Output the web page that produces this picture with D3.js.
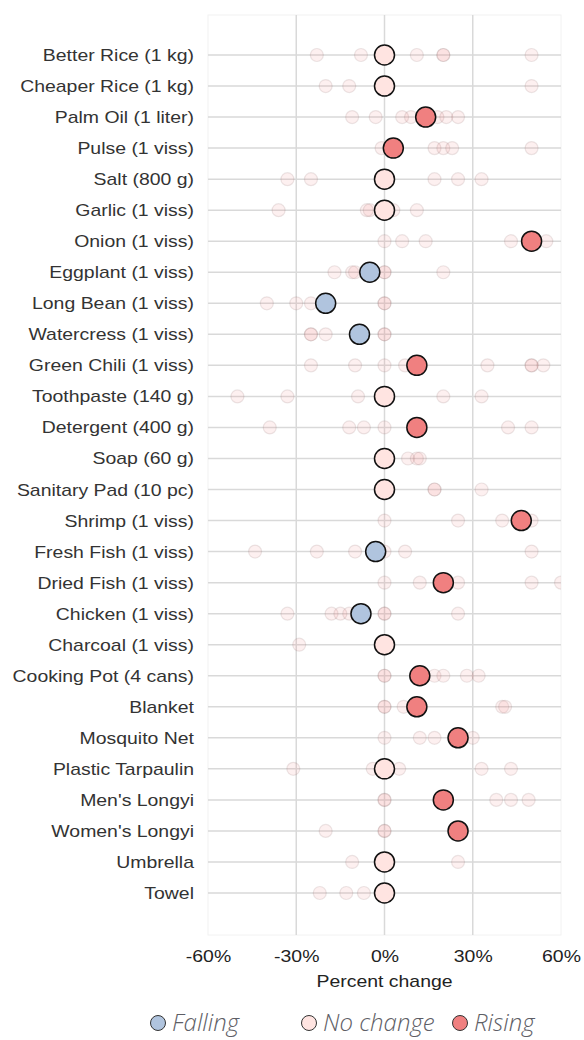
<!DOCTYPE html>
<html>
<head>
<meta charset="utf-8">
<script src="https://cdn.jsdelivr.net/npm/d3@7"></script>
<style>
  body { margin: 0; background: #fff; }
  svg { display: block; }
</style>
</head>
<body>
<div id="chart"></div>
<script>
// items, top to bottom
const items = [
  "Better Rice (1 kg)", "Cheaper Rice (1 kg)", "Palm Oil (1 liter)", "Pulse (1 viss)",
  "Salt (800 g)", "Garlic (1 viss)", "Onion (1 viss)", "Eggplant (1 viss)",
  "Long Bean (1 viss)", "Watercress (1 viss)", "Green Chili (1 viss)", "Toothpaste (140 g)",
  "Detergent (400 g)", "Soap (60 g)", "Sanitary Pad (10 pc)", "Shrimp (1 viss)",
  "Fresh Fish (1 viss)", "Dried Fish (1 viss)", "Chicken (1 viss)", "Charcoal (1 viss)",
  "Cooking Pot (4 cans)", "Blanket", "Mosquito Net", "Plastic Tarpaulin",
  "Men's Longyi", "Women's Longyi", "Umbrella", "Towel"
];

// median percent change per item
const medians = [
  0, 0, 14, 3,
  0, 0, 50, -5,
  -20, -8.5, 11, 0,
  11, 0, 0, 46.5,
  -3, 20, -8, 0,
  12, 11, 25, 0,
  20, 25, 0, 0
];

// individual market readings (percent change) per item
const markets = [
  [-23, -8, 11, 20, 20, 50],
  [-20, -12, 50],
  [-11, -3, 6, 9, 18, 21, 25],
  [-1, 17, 20, 23, 50],
  [-33, -25, 17, 25, 33],
  [-36, -6, -5, 3, 11],
  [0, 6, 14, 43, 55],
  [-17, -11, -10, 0, 0, 20],
  [-40, -30, -25, 0, 0],
  [-25, -25, -20, 0, 0],
  [-25, -10, 0, 7, 35, 50, 50, 54],
  [-50, -33, -9, 20, 33],
  [-39, -12, -7, 0, 42, 50],
  [8, 11, 12],
  [17, 17, 33],
  [0, 25, 40, 50],
  [-44, -23, -10, 0, 7, 50],
  [0, 12, 25, 50, 60],
  [-33, -18, -15, -12, 0, 0, 25],
  [-29],
  [0, 0, 17, 20, 28, 32],
  [0, 0, 6.5, 40, 41],
  [0, 12, 17, 30],
  [-31, -4, 5, 33, 43],
  [0, 0, 38, 43, 49],
  [-20, 0, 0],
  [-11, 25],
  [-22, -13, -7]
];

const xTicks = [-60, -30, 0, 30, 60];
const statuses = ["Falling", "No change", "Rising"];
const statusColors = ["#b0c4de", "#ffe4e1", "#f08080"];

const width = 584, height = 1040;
const plot = { left: 208, right: 561, top: 15, bottom: 935 };
const stretch = 1.13;   // the labels are drawn a little wide
const labelFont = "'Liberation Sans', Arial, sans-serif";

const svg = d3.select("#chart").append("svg")
    .attr("width", width)
    .attr("height", height);

const x = d3.scaleLinear().domain([-60, 60]).range([plot.left, plot.right]);
const y = d3.scalePoint().domain(items).range([55, 893]);
const color = d3.scaleOrdinal().domain(statuses).range(statusColors);

const statusOf = v => v > 0 ? "Rising" : (v < 0 ? "Falling" : "No change");

// plot frame (very light)
svg.append("rect")
    .attr("x", plot.left).attr("y", plot.top)
    .attr("width", plot.right - plot.left).attr("height", plot.bottom - plot.top)
    .attr("fill", "none").attr("stroke", "#f2f2f2").attr("stroke-width", 1);

// vertical grid
svg.append("g")
    .selectAll("line")
    .data(xTicks.filter(d => Math.abs(d) < 60))
    .join("line")
        .attr("x1", d => x(d)).attr("x2", d => x(d))
        .attr("y1", plot.top).attr("y2", plot.bottom)
        .attr("stroke", "#d9d9d9").attr("stroke-width", 1.5);

// horizontal row lines
svg.append("g")
    .selectAll("line")
    .data(items)
    .join("line")
        .attr("x1", plot.left).attr("x2", plot.right)
        .attr("y1", d => y(d)).attr("y2", d => y(d))
        .attr("stroke", "#d9d9d9").attr("stroke-width", 1.5);

// y labels
svg.append("g")
    .attr("transform", `translate(${plot.left - 14},0)`)
    .call(d3.axisLeft(y).tickSize(0).tickPadding(0))
    .call(g => g.select(".domain").remove())
    .selectAll("text")
        .attr("font-family", labelFont)
        .attr("font-size", 17.2)
        .attr("fill", "#333")
        .attr("transform", `scale(${stretch},1)`);

// x axis labels
svg.append("g")
    .attr("transform", `translate(0,${plot.bottom})`)
    .call(d3.axisBottom(x).tickValues(xTicks).tickFormat(d => d + "%").tickSize(0).tickPadding(15))
    .call(g => g.select(".domain").remove())
    .selectAll("text")
        .attr("font-family", labelFont)
        .attr("font-size", 17.2)
        .attr("fill", "#222")
        .attr("transform", `scale(${stretch},1)`);

svg.append("text")
    .attr("transform", `translate(${x(0)},987) scale(${stretch},1)`)
    .attr("text-anchor", "middle")
    .attr("font-family", labelFont)
    .attr("font-size", 17.2)
    .attr("fill", "#222")
    .text("Percent change");

// clip for market readings
svg.append("clipPath").attr("id", "plot-clip")
    .append("rect")
    .attr("x", plot.left).attr("y", plot.top)
    .attr("width", plot.right - plot.left).attr("height", plot.bottom - plot.top);

const marketPoints = [];
items.forEach((item, i) => markets[i].forEach(v => marketPoints.push({ item, v })));

svg.append("g")
    .attr("clip-path", "url(#plot-clip)")
    .selectAll("circle")
    .data(marketPoints)
    .join("circle")
        .attr("cx", d => x(d.v))
        .attr("cy", d => y(d.item))
        .attr("r", 6.5)
        .attr("fill", "#f08080").attr("fill-opacity", 0.12)
        .attr("stroke", "#8a6a6a").attr("stroke-opacity", 0.16).attr("stroke-width", 1.2);

// medians
svg.append("g")
    .selectAll("circle")
    .data(items.map((item, i) => ({ item, v: medians[i] })))
    .join("circle")
        .attr("cx", d => x(d.v))
        .attr("cy", d => y(d.item))
        .attr("r", 10)
        .attr("fill", d => color(statusOf(d.v)))
        .attr("stroke", "#111").attr("stroke-width", 1.5);

// legend
const legendX = [158, 309, 460];
const legend = svg.append("g")
    .selectAll("g")
    .data(statuses)
    .join("g")
        .attr("transform", (d, i) => `translate(${legendX[i]},1023)`);

legend.append("circle")
    .attr("r", 7.5)
    .attr("fill", d => color(d))
    .attr("stroke", "#333").attr("stroke-width", 1);

legend.append("text")
    .attr("x", 14).attr("y", 8)
    .attr("font-family", "'Open Sans', sans-serif")
    .attr("font-style", "italic")
    .attr("font-weight", 300)
    .attr("font-size", 24)
    .attr("fill", "#5e5e66")
    .text(d => d);
</script>
</body>
</html>
